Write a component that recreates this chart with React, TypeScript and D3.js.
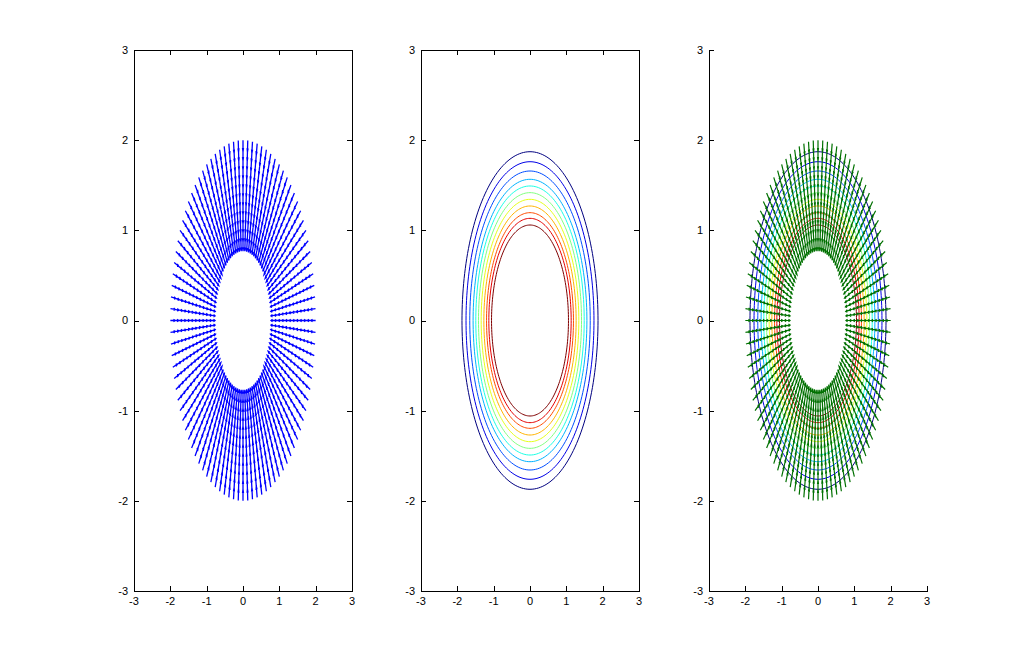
import React from 'react';
import * as d3 from 'd3';

// ---- data ----
const xTicks = [-3, -2, -1, 0, 1, 2, 3];
const yTicks = [-3, -2, -1, 0, 1, 2, 3];
const xDomain = [-3, 3];
const yDomain = [-3, 3];

// quiver grid: radii of base points and number of directions
const quiverRadii = [0.9, 1.0, 1.1, 1.2, 1.3, 1.4, 1.5, 1.6, 1.7, 1.8, 1.9, 2.0];
const quiverMagnitude = [0.13, 0.13, 0.13, 0.13, 0.13, 0.13, 0.13, 0.13, 0.13, 0.13, 0.13, 0.13];
const quiverDirections = 96;

// contour lines (radius of each level) and their colormap position
const contourRadii = [1.872, 1.761, 1.658, 1.566, 1.492, 1.418, 1.344, 1.27, 1.196, 1.133, 1.059];
const contourLevel = [0, 0.1, 0.2, 0.3, 0.4, 0.5, 0.6, 0.7, 0.8, 0.9, 1.0];

const panelLefts = [134, 421, 709];
const panelTop = 50;
const panelW = 218;
const panelH = 541;

function jet(t: number) {
  const c = (v: number) => Math.max(0, Math.min(1, v));
  const r = c(Math.min(4 * t - 1.5, -4 * t + 4.5));
  const g = c(Math.min(4 * t - 0.5, -4 * t + 3.5));
  const b = c(Math.min(4 * t + 0.5, -4 * t + 2.5));
  return d3.rgb(r * 255, g * 255, b * 255).toString();
}

function quiverPath(sx: d3.ScaleLinear<number, number>, sy: d3.ScaleLinear<number, number>) {
  const p = d3.path();
  const alpha = 0.33, beta = 0.33;
  quiverRadii.forEach((r, ri) => {
    const m = quiverMagnitude[ri];
    for (let k = 0; k < quiverDirections; k++) {
      const th = (2 * Math.PI * k) / quiverDirections;
      const x = r * Math.cos(th), y = r * Math.sin(th);
      const u = -m * Math.cos(th), v = -m * Math.sin(th);
      p.moveTo(sx(x), sy(y));
      p.lineTo(sx(x + u), sy(y + v));
      const h1x = x + u - alpha * (u + beta * v), h1y = y + v - alpha * (v - beta * u);
      const h3x = x + u - alpha * (u - beta * v), h3y = y + v - alpha * (v + beta * u);
      p.moveTo(sx(h1x), sy(h1y));
      p.lineTo(sx(x + u), sy(y + v));
      p.lineTo(sx(h3x), sy(h3y));
    }
  });
  return p.toString();
}

function Contours({ sx, sy }: any) {
  const line = d3.line<number>()
    .x((d: any) => d[0])
    .y((d: any) => d[1])
    .curve(d3.curveLinearClosed);
  return (
    <g fill="none" strokeWidth={1}>
      {contourRadii.map((r, i) => {
        const pts: any[] = [];
        for (let k = 0; k < 200; k++) {
          const th = (2 * Math.PI * k) / 200;
          pts.push([sx(r * Math.cos(th)), sy(r * Math.sin(th))]);
        }
        return <path key={i} d={line(pts as any) || ''} stroke={jet(contourLevel[i])} />;
      })}
    </g>
  );
}

function Axes({ left, box }: { left: number; box: boolean }) {
  const sx = d3.scaleLinear().domain(xDomain).range([left, left + panelW]);
  const sy = d3.scaleLinear().domain(yDomain).range([panelTop + panelH, panelTop]);
  const tl = 5;
  const bottom = panelTop + panelH;
  const right = left + panelW;
  const lines: any[] = [];
  xTicks.forEach((t, i) => {
    const x = Math.round(sx(t)) + 0.5;
    lines.push(<line key={'xb' + i} x1={x} x2={x} y1={bottom} y2={bottom - tl} />);
    if (box) lines.push(<line key={'xt' + i} x1={x} x2={x} y1={panelTop} y2={panelTop + tl} />);
  });
  yTicks.forEach((t, i) => {
    const y = Math.round(sy(t)) + 0.5;
    lines.push(<line key={'yl' + i} x1={left} x2={left + tl} y1={y} y2={y} />);
    if (box) lines.push(<line key={'yr' + i} x1={right} x2={right - tl} y1={y} y2={y} />);
  });
  return (
    <g>
      <g stroke="#000" strokeWidth={1} shapeRendering="crispEdges">
        <line x1={left + 0.5} x2={left + 0.5} y1={panelTop} y2={bottom + 0.5} />
        <line x1={left} x2={right + 0.5} y1={bottom + 0.5} y2={bottom + 0.5} />
        {box && <line x1={right + 0.5} x2={right + 0.5} y1={panelTop} y2={bottom + 0.5} />}
        {box && <line x1={left} x2={right + 0.5} y1={panelTop + 0.5} y2={panelTop + 0.5} />}
        {lines}
      </g>
      <g fontFamily="Arial, 'Liberation Sans', sans-serif" fontSize={11} fill="#000">
        {xTicks.map((t, i) => (
          <text key={'xl' + i} x={sx(t)} y={bottom + 14} textAnchor="middle">{t}</text>
        ))}
        {yTicks.map((t, i) => (
          <text key={'yl' + i} x={left - 6} y={sy(t)} dy="0.36em" textAnchor="end">{t}</text>
        ))}
      </g>
    </g>
  );
}

export default function App() {
  const scales = panelLefts.map((left) => ({
    sx: d3.scaleLinear().domain(xDomain).range([left, left + panelW]),
    sy: d3.scaleLinear().domain(yDomain).range([panelTop + panelH, panelTop]),
  }));
  return (
    <svg width={1025} height={664} style={{ position: 'absolute', left: 0, top: 0, background: '#fff' }}>
      <rect x={0} y={0} width={1025} height={664} fill="#fff" />
      {/* panel 1: quiver */}
      <path d={quiverPath(scales[0].sx, scales[0].sy)} fill="none" stroke="#0000ff" strokeWidth={1.3} />
      <Axes left={panelLefts[0]} box={true} />
      {/* panel 2: contour */}
      <Contours sx={scales[1].sx} sy={scales[1].sy} />
      <Axes left={panelLefts[1]} box={true} />
      {/* panel 3: contour + quiver */}
      <Contours sx={scales[2].sx} sy={scales[2].sy} />
      <path d={quiverPath(scales[2].sx, scales[2].sy)} fill="none" stroke="#007000" strokeWidth={1.2} />
      <Axes left={panelLefts[2]} box={false} />
    </svg>
  );
}
